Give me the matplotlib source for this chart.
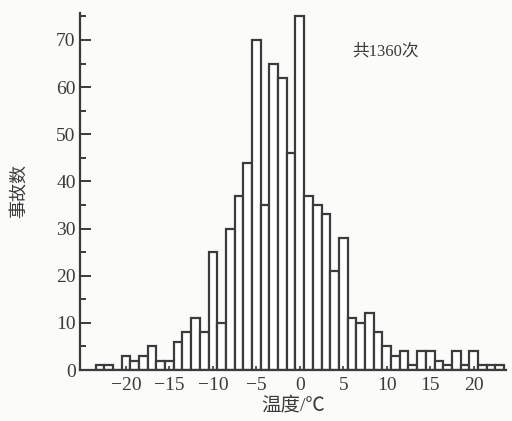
import matplotlib
matplotlib.use("Agg")
import matplotlib.pyplot as plt
from matplotlib.ticker import MultipleLocator
import numpy as np

# temperature bins (deg C, 1-degree wide, centred on integers)
temps = list(range(-23, 24))
# accident counts per bin
counts = [1, 1, 0, 3, 2, 3, 5, 2, 2, 6, 8, 11, 8, 25, 10, 30, 37, 44,
          70, 35, 65, 62, 46, 75, 37, 35, 33, 21, 28, 11, 10, 12, 8, 5,
          3, 4, 1, 4, 4, 2, 1, 4, 1, 4, 1, 1, 1]
xticks = [-20, -15, -10, -5, 0, 5, 10, 15, 20]
yticks = [0, 10, 20, 30, 40, 50, 60, 70]
total_note = "共1360次"

ink = "#3b3b3b"
serif = ["Liberation Serif", "Noto Sans CJK SC"]

fig = plt.figure(figsize=(5.12, 4.21), dpi=100, facecolor="#fbfbf9")
ax = fig.add_axes([0.156, 0.121, 0.832, 0.849])
ax.set_facecolor("#fbfbf9")

ax.bar(temps, counts, width=1.0, facecolor="white", edgecolor=ink,
       linewidth=1.6, align="center")

ax.set_xlim(-25.3, 23.7)
ax.set_ylim(0, 75.8)

for s in ["top", "right"]:
    ax.spines[s].set_visible(False)
for s in ["left", "bottom"]:
    ax.spines[s].set_color(ink)
    ax.spines[s].set_linewidth(1.6)

ax.set_xticks(xticks)
ax.set_xticklabels(["\u2212%d" % -t if t < 0 else str(t) for t in xticks])
ax.set_yticks(yticks)
ax.yaxis.set_minor_locator(MultipleLocator(5))
ax.tick_params(axis="y", which="major", direction="in", length=8,
               width=1.4, color=ink, pad=3)
ax.tick_params(axis="y", which="minor", direction="in", length=4.5,
               width=1.4, color=ink)
ax.tick_params(axis="x", which="major", direction="in", length=3,
               width=1.2, color=ink, pad=5)
for lab in ax.get_xticklabels() + ax.get_yticklabels():
    lab.set_family(serif)
    lab.set_fontsize(14)
    lab.set_color(ink)

ax.set_ylabel("事故数", family=serif, fontsize=13, color=ink, labelpad=20)
ax.set_xlabel("温度/℃", family=serif, fontsize=14, color=ink, labelpad=2)

ax.text(6.0, 67.5, total_note, family=serif, fontsize=12, color=ink,
        ha="left", va="center")

fig.savefig("out.png", dpi=100, facecolor=fig.get_facecolor())
